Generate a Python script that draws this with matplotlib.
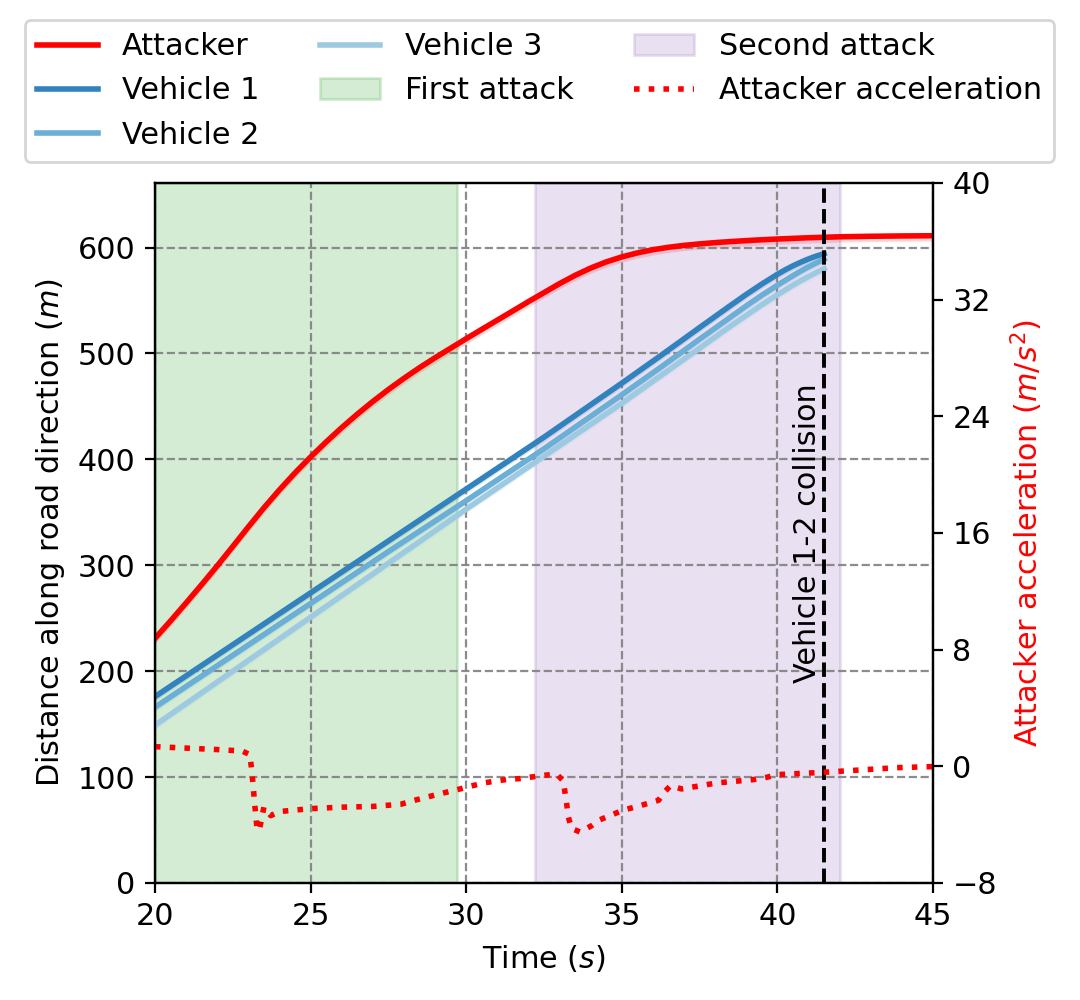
import numpy as np
import matplotlib
matplotlib.use("Agg")
import matplotlib.pyplot as plt
import matplotlib.patches as mpatches

# ---- data ----
att_t = [20.0, 20.5, 21.0, 21.5, 22.0, 22.5, 23.0, 23.5, 24.0, 24.5, 25.0, 25.5,
         26.0, 26.5, 27.0, 27.5, 28.0, 28.5, 29.0, 29.5, 30.0, 30.5, 31.0, 31.5,
         32.0, 32.5, 33.0, 33.5, 34.0, 34.5, 35.0, 35.5, 36.0, 36.5, 37.0, 37.5,
         38.0, 38.5, 39.0, 39.5, 40.0, 40.5, 41.0, 42.0, 43.0, 44.0, 45.0]
att_d = [231, 247.5, 264.5, 281.8, 299.5, 317.8, 336.3, 354.3, 371.3, 387.3, 402.3, 416.5,
         430, 442.7, 454.7, 466, 476.6, 486.6, 496, 505, 514, 522.8, 531.5, 540.2,
         549, 557.5, 566, 573.8, 580.7, 586.5, 591.2, 595, 598, 600.3, 602.1, 603.5,
         604.7, 605.7, 606.6, 607.4, 608.1, 608.7, 609.3, 610.2, 610.7, 611, 611.2]

veh_t = [20.0, 22.5, 25.0, 27.5, 30.0, 32.5, 35.0, 36.25, 37.5, 38.5, 39.0, 39.5, 40.0,
         40.25, 40.5, 40.75, 41.0, 41.25, 41.5]
veh1_d = [176, 225, 274, 323, 372, 421, 472, 498, 524.5, 545.5, 555.8, 565.6, 574.8,
          579, 582.8, 586.2, 589.3, 592, 594.3]
veh2_d = [166, 215, 264, 313, 361, 410, 461, 487, 513.5, 534.5, 545, 555, 564.5,
          569, 573.5, 577.8, 581.8, 585.5, 589]
veh3_d = [149, 200, 251, 302, 353, 403, 453, 479, 505, 526, 536, 546, 555.5,
          560, 564.5, 568.7, 572.7, 576.5, 580]

acc_t = [20.0, 21.0, 22.0, 22.8, 23.05, 23.12, 23.2, 23.28, 23.35, 23.5, 23.72, 24.0,
         25.0, 26.0, 27.0, 27.9, 28.3, 29.05, 29.8, 30.55, 31.3, 31.72, 32.53, 32.9,
         33.12, 33.23, 33.28, 33.39, 33.66, 34.03, 34.3, 35.05, 35.5, 36.18, 36.39,
         36.57, 36.92, 38.05, 39.23, 39.66, 39.98, 41.48, 42.66, 43.84, 45.0]
acc_a = [1.35, 1.25, 1.15, 1.05, 0.8, -0.5, -2.5, -4.3, -4.4, -2.8, -3.38, -3.1,
         -2.9, -2.8, -2.75, -2.6, -2.35, -1.94, -1.55, -1.14, -0.9, -0.84, -0.61, -0.52,
         -1.0, -2.6, -3.47, -4.27, -4.5, -4.07, -3.66, -3.0, -2.75, -2.33, -1.71,
         -1.32, -1.55, -1.14, -0.91, -0.75, -0.57, -0.41, -0.25, -0.09, -0.02]

first_attack = (20.0, 29.7)
second_attack = (32.2, 42.0)
collision_t = 41.5

# ---- style ----
FS = 10.9
plt.rcParams['font.family'] = ['DejaVu Sans']
plt.rcParams['font.size'] = FS
plt.rcParams['mathtext.fontset'] = 'dejavusans'

fig = plt.figure(figsize=(5.4, 5.0), dpi=200)
ax = fig.add_axes([155/1080, 1-883/1000, 778/1080, 700/1000])

c_att = '#ff0000'
c_v1 = '#3182bd'
c_v2 = '#6baed6'
c_v3 = '#9ecae1'
c_g = '#2ca02c'
c_p = '#9467bd'

ax.axvspan(*first_attack, color=c_g, alpha=0.2)
ax.axvspan(*second_attack, color=c_p, alpha=0.2)

for d, c in [(veh3_d, c_v3), (veh2_d, c_v2), (veh1_d, c_v1)]:
    d = np.array(d, float)
    ax.fill_between(veh_t, d - 4, d + 2, color=c, alpha=0.18, lw=0)

att = np.array(att_d, float)
ax.fill_between(att_t, att - 5, att + 1, color=c_att, alpha=0.15, lw=0)

l_att, = ax.plot(att_t, att_d, color=c_att, lw=2, label='Attacker')
l_v3, = ax.plot(veh_t, veh3_d, color=c_v3, lw=2, label='Vehicle 3')
l_v2, = ax.plot(veh_t, veh2_d, color=c_v2, lw=2, label='Vehicle 2')
l_v1, = ax.plot(veh_t, veh1_d, color=c_v1, lw=2, label='Vehicle 1')

ax.axvline(collision_t, color='black', ls='--', lw=1.4)
ax.text(collision_t - 0.08, 330, 'Vehicle 1-2 collision', rotation=90,
        ha='right', va='center', fontsize=FS)

ax.set_xlim(20, 45)
ax.set_ylim(0, 661)
ax.set_xticks([20, 25, 30, 35, 40, 45])
ax.set_yticks([0, 100, 200, 300, 400, 500, 600])
ax.grid(True, color='gray', ls='--', lw=0.8, alpha=0.9)
ax.set_xlabel('Time ($s$)')
ax.set_ylabel('Distance along road direction ($m$)')

ax2 = ax.twinx()
l_acc, = ax2.plot(acc_t, acc_a, color=c_att, ls=':', lw=2, label='Attacker acceleration')
ax2.set_ylim(-8, 40)
ax2.set_yticks([-8, 0, 8, 16, 24, 32, 40])
ax2.set_ylabel('Attacker acceleration ($m/s^2$)', color=c_att)

p1 = mpatches.Patch(facecolor=c_g, edgecolor=c_g, alpha=0.2, label='First attack')
p2 = mpatches.Patch(facecolor=c_p, edgecolor=c_p, alpha=0.2, label='Second attack')
handles = [l_att, l_v1, l_v2, l_v3, p1, p2, l_acc]
labels = [h.get_label() for h in handles]
fig.legend(handles, labels, loc='upper center', bbox_to_anchor=(0.4995, 0.995),
           ncol=3, fontsize=FS)

fig.savefig('out.png', dpi=200)
